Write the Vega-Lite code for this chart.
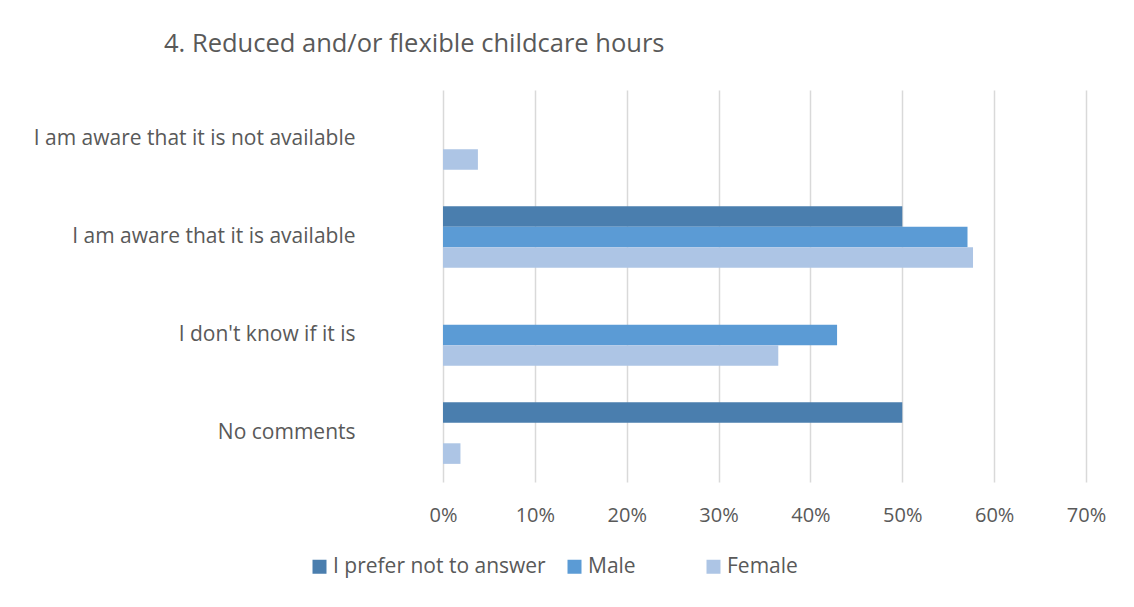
{
  "$schema": "https://vega.github.io/schema/vega-lite/v6.json",
  "width": 643,
  "height": 392,
  "autosize": {"type": "none"},
  "padding": {"left": 443, "top": 90, "right": 48, "bottom": 125},
  "background": "white",
  "title": {
    "text": "4. Reduced and/or flexible childcare hours",
    "anchor": "start",
    "frame": "group",
    "dx": -279,
    "offset": 33,
    "font": "Open Sans",
    "fontSize": 25.5,
    "fontWeight": "normal",
    "color": "#595959"
  },
  "data": {
    "values": [
      {"category": "I am aware that it is not available", "series": "I prefer not to answer", "value": 0},
      {"category": "I am aware that it is not available", "series": "Male", "value": 0},
      {"category": "I am aware that it is not available", "series": "Female", "value": 0.038},
      {"category": "I am aware that it is available", "series": "I prefer not to answer", "value": 0.5},
      {"category": "I am aware that it is available", "series": "Male", "value": 0.571},
      {"category": "I am aware that it is available", "series": "Female", "value": 0.577},
      {"category": "I don't know if it is", "series": "I prefer not to answer", "value": 0},
      {"category": "I don't know if it is", "series": "Male", "value": 0.429},
      {"category": "I don't know if it is", "series": "Female", "value": 0.365},
      {"category": "No comments", "series": "I prefer not to answer", "value": 0.5},
      {"category": "No comments", "series": "Male", "value": 0},
      {"category": "No comments", "series": "Female", "value": 0.019}
    ]
  },
  "mark": {"type": "bar"},
  "encoding": {
    "y": {
      "field": "category",
      "type": "nominal",
      "sort": null,
      "scale": {"paddingInner": 0.37, "paddingOuter": 0.185},
      "axis": {
        "title": null,
        "domain": false,
        "ticks": false,
        "labelPadding": 88,
        "labelFont": "Open Sans",
        "labelFontSize": 21,
        "labelColor": "#595959",
        "labelLimit": 450
      }
    },
    "yOffset": {
      "field": "series",
      "type": "nominal",
      "sort": ["I prefer not to answer", "Male", "Female"],
      "scale": {"paddingInner": 0, "paddingOuter": 0}
    },
    "x": {
      "field": "value",
      "type": "quantitative",
      "scale": {"domain": [0, 0.7], "nice": false},
      "axis": {
        "title": null,
        "format": ".0%",
        "values": [0, 0.1, 0.2, 0.3, 0.4, 0.5, 0.6, 0.7],
        "labelOverlap": false,
        "labelFlush": false,
        "domain": false,
        "ticks": false,
        "grid": true,
        "gridColor": "#d9d9d9",
        "gridWidth": 1.5,
        "labelPadding": 23,
        "labelFont": "Open Sans",
        "labelFontSize": 20,
        "labelColor": "#595959"
      }
    },
    "color": {
      "field": "series",
      "type": "nominal",
      "sort": ["I prefer not to answer", "Male", "Female"],
      "scale": {
        "domain": ["I prefer not to answer", "Male", "Female"],
        "range": ["#4a7eae", "#5b9bd5", "#adc5e5"]
      },
      "legend": {
        "title": null,
        "orient": "none",
        "direction": "horizontal",
        "legendX": -134,
        "legendY": 466,
        "symbolType": "square",
        "symbolSize": 196,
        "symbolStrokeWidth": 0,
        "labelFont": "Open Sans",
        "labelFontSize": 21,
        "labelColor": "#595959",
        "labelLimit": 400,
        "labelOffset": 3,
        "columnPadding": 18,
        "labelExpr": "datum.label == 'Male' ? 'Male\u00a0\u00a0\u00a0\u00a0\u00a0\u00a0\u00a0\u00a0\u00a0\u200b' : datum.label"
      }
    }
  },
  "config": {"view": {"stroke": null}}
}
